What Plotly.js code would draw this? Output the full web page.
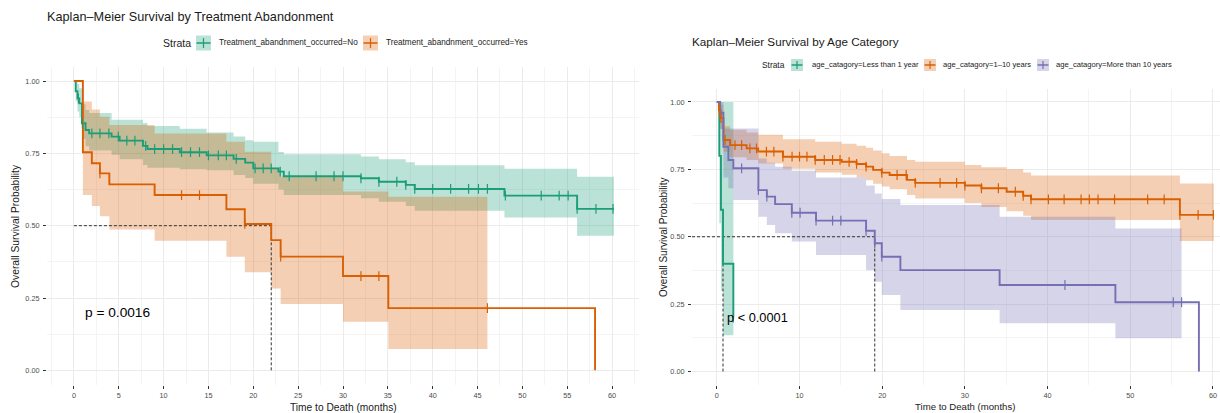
<!DOCTYPE html>
<html><head><meta charset="utf-8">
<script src="https://cdn.plot.ly/plotly-3.0.1.min.js"></script>
<style>html,body{margin:0;padding:0;background:#fff;}#chart{width:1220px;height:413px;}</style>
</head><body><div id="chart"></div>
<script>
// ---------- DATA ----------
// Left panel: Treatment abandonment = No
const noTimes  = [0, 0.2, 0.4, 0.6, 0.9, 1.3, 1.7, 4.2, 5.1, 7.7, 8.2, 11.8, 14.8, 17.8, 19.1, 20.0, 22.8, 23.4, 32.0, 34.0, 37.0, 38.0, 48.0, 56.1];
const noSurv   = [1.0, 0.965, 0.94, 0.923, 0.854, 0.831, 0.819, 0.808, 0.794, 0.776, 0.765, 0.754, 0.743, 0.731, 0.718, 0.698, 0.687, 0.671, 0.664, 0.652, 0.641, 0.627, 0.604, 0.558];
const noUpper  = [1.0, 1.0, 0.99, 0.975, 0.92, 0.90, 0.89, 0.866, 0.866, 0.855, 0.845, 0.835, 0.822, 0.808, 0.795, 0.79, 0.755, 0.747, 0.739, 0.73, 0.719, 0.709, 0.697, 0.669];
const noLower  = [1.0, 0.93, 0.895, 0.875, 0.80, 0.775, 0.76, 0.745, 0.73, 0.71, 0.70, 0.695, 0.692, 0.675, 0.665, 0.645, 0.625, 0.606, 0.595, 0.583, 0.568, 0.552, 0.528, 0.465];
const noCensor = [0.5, 0.95, 2.0, 2.9, 3.9, 4.95, 5.9, 6.8, 8.0, 9.0, 10.0, 11.0, 12.0, 13.0, 14.0, 15.0, 16.1, 17.0, 18.1, 20.2, 21.1, 22.0, 23.0, 24.0, 27.0, 29.0, 30.0, 32.0, 34.0, 36.0, 37.0, 38.0, 40.0, 42.0, 44.0, 45.1, 46.1, 48.1, 52.1, 54.1, 55.1, 56.1, 58.2, 60.1];
const noEnd = 60.2;

// Left panel: Treatment abandonment = Yes
const yesTimes  = [0, 1.0, 2.0, 2.9, 3.95, 9.0, 17.0, 19.05, 22.0, 23.05, 30.0, 35.05, 58.1];
const yesSurv   = [1.0, 0.754, 0.716, 0.681, 0.643, 0.606, 0.557, 0.506, 0.45, 0.393, 0.326, 0.215, 0];
const yesUpper  = [1.0, 0.929, 0.902, 0.877, 0.848, 0.819, 0.79, 0.756, 0.70, 0.669, 0.618, 0.60];
const yesLower  = [1.0, 0.606, 0.568, 0.533, 0.487, 0.448, 0.393, 0.339, 0.283, 0.229, 0.168, 0.074];
const yesCensor = [2.9, 12.0, 14.0, 19.05, 23.05, 32.0, 34.0, 46.1];
const yesEnd = 58.1, yesBandEnd = 46.1;

// Right panel: age < 1 year
const lt1Times  = [0, 0.3, 0.5, 0.75, 2.0];
const lt1Surv   = [1.0, 0.8, 0.6, 0.4, 0.2];
const lt1Upper  = [1.0, 1.0, 1.0, 1.0];
const lt1Lower  = [1.0, 0.55, 0.3, 0.135];
const lt1Censor = [2.0];
const lt1End = 2.0, lt1BandEnd = 2.0;

// Right panel: age 1-10 years
const midTimes  = [0, 0.25, 0.45, 0.8, 1.6, 3.6, 5.0, 8.0, 11.9, 15.1, 16.9, 18.05, 18.9, 19.95, 20.9, 23.0, 24.0, 30.0, 32.0, 35.05, 37.05, 38.0, 56.0];
const midSurv   = [1.0, 0.97, 0.94, 0.859, 0.84, 0.828, 0.816, 0.797, 0.785, 0.778, 0.77, 0.76, 0.748, 0.738, 0.729, 0.711, 0.70, 0.69, 0.68, 0.667, 0.652, 0.639, 0.581];
const midUpper  = [1.0, 1.0, 0.99, 0.91, 0.897, 0.887, 0.878, 0.862, 0.852, 0.845, 0.838, 0.83, 0.82, 0.81, 0.80, 0.785, 0.778, 0.766, 0.758, 0.75, 0.738, 0.727, 0.698];
const midLower  = [1.0, 0.94, 0.9, 0.815, 0.795, 0.785, 0.772, 0.752, 0.738, 0.73, 0.72, 0.71, 0.697, 0.686, 0.676, 0.655, 0.642, 0.625, 0.61, 0.595, 0.578, 0.562, 0.484];
const midCensor = [0.3, 0.5, 1.0, 2.2, 3.0, 4.0, 4.8, 6.0, 6.9, 8.0, 9.1, 10.0, 10.9, 11.9, 13.0, 14.0, 14.9, 16.0, 16.9, 18.05, 19.95, 21.8, 22.9, 24.0, 27.0, 29.0, 30.0, 32.0, 34.05, 36.1, 37.05, 38.0, 40.1, 42.0, 44.05, 45.05, 46.1, 48.1, 52.1, 54.1, 56.0, 58.2, 60.05];
const midEnd = 60.1;

// Right panel: age > 10 years
const gt10Times  = [0, 0.4, 0.8, 1.4, 2.0, 5.03, 6.05, 7.05, 9.07, 12.0, 18.05, 19.1, 19.95, 22.2, 34.2, 48.2, 58.3];
const gt10Surv   = [1.0, 0.96, 0.834, 0.785, 0.754, 0.673, 0.649, 0.621, 0.589, 0.56, 0.522, 0.476, 0.426, 0.376, 0.321, 0.257, 0];
const gt10Upper  = [1.0, 1.0, 0.902, 0.902, 0.902, 0.79, 0.775, 0.76, 0.745, 0.72, 0.69, 0.66, 0.64, 0.618, 0.574, 0.531];
const gt10Lower  = [1.0, 0.9, 0.72, 0.68, 0.636, 0.574, 0.544, 0.513, 0.482, 0.432, 0.376, 0.333, 0.284, 0.228, 0.179, 0.123];
const gt10Censor = [3.0, 5.03, 6.05, 9.07, 10.07, 12.0, 14.0, 15.0, 18.05, 19.1, 19.95, 42.1, 55.2, 56.2];
const gt10End = 58.3, gt10BandEnd = 56.2;

// Medians
const leftMedians  = [22];
const rightMedians = [0.75, 19.1];

// Text
const leftTitle  = 'Kaplan–Meier Survival by Treatment Abandonment';
const rightTitle = 'Kaplan–Meier Survival by Age Category';
const leftStrata  = ['Treatment_abandnment_occurred=No', 'Treatment_abandnment_occurred=Yes'];
const rightStrata = ['age_catagory=Less than 1 year', 'age_catagory=1–10 years', 'age_catagory=More than 10 years'];
const leftPval  = 'p = 0.0016';
const rightPval = 'p < 0.0001';
const xTitle = 'Time to Death (months)';
const yTitle = 'Overall Survival Probability';

// ---------- STYLE ----------
const W = 1220, H = 413;
const FONT = 'Liberation Sans, Arial, Helvetica, sans-serif';
const GREEN = '#1B9E77', ORANGE = '#D95F02', PURPLE = '#7570B3';
const GREEN_F = 'rgba(27,158,119,0.3)', ORANGE_F = 'rgba(217,95,2,0.3)', PURPLE_F = 'rgba(117,112,179,0.3)';
const xp = v => v / W;
const yp = v => 1 - v / H;

function stepTrace(times, surv, end, color, xa, ya) {
  return {x: times.concat([end]), y: surv.concat([surv[surv.length - 1]]), xaxis: xa, yaxis: ya,
    type: 'scatter', mode: 'lines', line: {color: color, width: 1.9, shape: 'hv'}, hoverinfo: 'skip', showlegend: false};
}
function bandTraces(times, upper, lower, end, fill, xa, ya) {
  const t = times.slice(0, upper.length).concat([end]);
  const lo = {x: t, y: lower.concat([lower[lower.length - 1]]), xaxis: xa, yaxis: ya, type: 'scatter', mode: 'lines',
    line: {width: 0, shape: 'hv', color: 'rgba(0,0,0,0)'}, hoverinfo: 'skip', showlegend: false};
  const up = {x: t, y: upper.concat([upper[upper.length - 1]]), xaxis: xa, yaxis: ya, type: 'scatter', mode: 'lines',
    fill: 'tonexty', fillcolor: fill, line: {width: 0, shape: 'hv', color: 'rgba(0,0,0,0)'}, hoverinfo: 'skip', showlegend: false};
  return [lo, up];
}
function survAt(times, surv, c) {
  let s = surv[0];
  for (let i = 0; i < times.length; i++) if (times[i] <= c + 1e-9) s = surv[i];
  return s;
}
function censorTrace(censor, times, surv, color, xa, ya) {
  return {x: censor, y: censor.map(c => survAt(times, surv, c)), xaxis: xa, yaxis: ya, type: 'scatter', mode: 'markers',
    marker: {symbol: 'line-ns-open', size: 7, color: color, line: {width: 1.2, color: color}}, hoverinfo: 'skip', showlegend: false};
}
function medianTraces(meds, x0, xa, ya) {
  const tr = [];
  const mx = Math.max.apply(null, meds);
  tr.push({x: [x0, mx], y: [0.5, 0.5], xaxis: xa, yaxis: ya, type: 'scatter', mode: 'lines',
    line: {color: '#333', width: 1, dash: '3px,2px'}, hoverinfo: 'skip', showlegend: false});
  meds.forEach(m => tr.push({x: [m, m], y: [0, 0.5], xaxis: xa, yaxis: ya, type: 'scatter', mode: 'lines',
    line: {color: '#333', width: 1, dash: '3px,2px'}, hoverinfo: 'skip', showlegend: false}));
  return tr;
}

const rightRange = [-3, 60.85];
const traces = [].concat(
  bandTraces(noTimes, noUpper, noLower, noEnd, GREEN_F, 'x', 'y'),
  bandTraces(yesTimes, yesUpper, yesLower, yesBandEnd, ORANGE_F, 'x', 'y'),
  medianTraces(leftMedians, 0, 'x', 'y'),
  [stepTrace(noTimes, noSurv, noEnd, GREEN, 'x', 'y'),
   stepTrace(yesTimes, yesSurv, yesEnd, ORANGE, 'x', 'y'),
   censorTrace(noCensor, noTimes, noSurv, GREEN, 'x', 'y'),
   censorTrace(yesCensor, yesTimes, yesSurv, ORANGE, 'x', 'y')],
  bandTraces(lt1Times, lt1Upper, lt1Lower, lt1BandEnd, GREEN_F, 'x2', 'y2'),
  bandTraces(midTimes, midUpper, midLower, midEnd, ORANGE_F, 'x2', 'y2'),
  bandTraces(gt10Times, gt10Upper, gt10Lower, gt10BandEnd, PURPLE_F, 'x2', 'y2'),
  medianTraces(rightMedians, rightRange[0], 'x2', 'y2'),
  [stepTrace(lt1Times, lt1Surv, lt1End, GREEN, 'x2', 'y2'),
   stepTrace(midTimes, midSurv, midEnd, ORANGE, 'x2', 'y2'),
   stepTrace(gt10Times, gt10Surv, gt10End, PURPLE, 'x2', 'y2'),
   censorTrace(lt1Censor, lt1Times, lt1Surv, GREEN, 'x2', 'y2'),
   censorTrace(midCensor, midTimes, midSurv, ORANGE, 'x2', 'y2'),
   censorTrace(gt10Censor, gt10Times, gt10Surv, PURPLE, 'x2', 'y2')]
);

function xAxis(domain, range, dtick, anchor) {
  return {domain: domain, range: range, dtick: dtick, tick0: 0, anchor: anchor, ticks: 'outside', ticklen: 3, tickwidth: 1,
    tickcolor: '#333', showgrid: true, gridcolor: '#ebebeb', gridwidth: 1, zeroline: false, showline: false,
    minor: {dtick: dtick / 2, showgrid: true, gridcolor: '#f4f4f4', gridwidth: 1},
    tickfont: {family: FONT, size: 7.3, color: '#4d4d4d'}, fixedrange: true};
}
function yAxis(domain, anchor) {
  return {domain: domain, range: [-0.05, 1.05], dtick: 0.25, tick0: 0, tickformat: '.2f', anchor: anchor, ticks: 'outside',
    ticklen: 3, tickwidth: 1, tickcolor: '#333', showgrid: true, gridcolor: '#ebebeb', gridwidth: 1, zeroline: false,
    showline: false, ticklabelstandoff: 2, minor: {dtick: 0.125, showgrid: true, gridcolor: '#f4f4f4', gridwidth: 1},
    tickfont: {family: FONT, size: 7.3, color: '#4d4d4d'}, fixedrange: true};
}

const annotations = [];
const shapes = [];
function txt(text, x, y, size, opts) {
  annotations.push(Object.assign({text: text, x: xp(x), y: yp(y), xref: 'paper', yref: 'paper', showarrow: false,
    xanchor: 'left', yanchor: 'middle', font: {family: FONT, size: size, color: '#1a1a1a'}}, opts || {}));
}
// right title
txt(rightTitle, 690, 41, 11.7);
// axis titles
txt(xTitle, 343, 407, 10.2, {xanchor: 'center', borderpad: 0});
txt(xTitle, 965, 406.5, 9.6, {xanchor: 'center', borderpad: 0});
txt(yTitle, 15, 226, 10.3, {xanchor: 'center', textangle: -90});
txt(yTitle, 663, 237, 10, {xanchor: 'center', textangle: -90});
// p values (data coords)
annotations.push({text: leftPval, x: 1.0, y: 0.2, xref: 'x', yref: 'y', xanchor: 'left', yanchor: 'middle', showarrow: false,
  font: {family: FONT, size: 13.7, color: '#000'}});
annotations.push({text: rightPval, x: 1.0, y: 0.2, xref: 'x2', yref: 'y2', xanchor: 'left', yanchor: 'middle', showarrow: false,
  font: {family: FONT, size: 12.8, color: '#000'}});

// legends
function legendKey(x0, size, cy, color, fill) {
  shapes.push({type: 'rect', xref: 'paper', yref: 'paper', x0: xp(x0), x1: xp(x0 + size), y0: yp(cy + size / 2), y1: yp(cy - size / 2),
    fillcolor: fill, line: {width: 0}, layer: 'above'});
  shapes.push({type: 'line', xref: 'paper', yref: 'paper', x0: xp(x0 + 0.5), x1: xp(x0 + size - 0.5), y0: yp(cy), y1: yp(cy),
    line: {color: color, width: 1.5}, layer: 'above'});
  shapes.push({type: 'line', xref: 'paper', yref: 'paper', x0: xp(x0 + size / 2), x1: xp(x0 + size / 2), y0: yp(cy - size * 0.33), y1: yp(cy + size * 0.33),
    line: {color: color, width: 1.2}, layer: 'above'});
}
txt('Strata', 161, 43, 10.5);
const lKeyX = [196, 363], lTextX = [217, 384], lCols = [GREEN, ORANGE], lFills = [GREEN_F, ORANGE_F];
leftStrata.forEach((s, i) => { legendKey(lKeyX[i], 15, 43, lCols[i], lFills[i]); txt(s, lTextX[i], 43, 8.2); });
txt('Strata', 760, 65, 8.4);
const rKeyX = [791, 924, 1037], rTextX = [810, 941, 1054], rCols = [GREEN, ORANGE, PURPLE], rFills = [GREEN_F, ORANGE_F, PURPLE_F];
rightStrata.forEach((s, i) => { legendKey(rKeyX[i], 12, 65, rCols[i], rFills[i]); txt(s, rTextX[i], 65, 7.6); });

const layout = {
  width: W, height: H, margin: {l: 0, r: 0, t: 0, b: 0}, paper_bgcolor: '#fff', plot_bgcolor: '#fff',
  font: {family: FONT, color: '#1a1a1a'}, showlegend: false, hovermode: false,
  title: {text: leftTitle, x: xp(47), xanchor: 'left', xref: 'paper', y: yp(17), yanchor: 'middle', yref: 'container',
    font: {family: FONT, size: 12.7, color: '#1a1a1a'}},
  xaxis: xAxis([xp(47), xp(639)], [-3, 63], 5, 'y'),
  yaxis: yAxis([yp(384.8), yp(66.6)], 'x'),
  xaxis2: xAxis([xp(692), 1], rightRange, 10, 'y2'),
  yaxis2: yAxis([yp(385), yp(88.5)], 'x2'),
  annotations: annotations, shapes: shapes
};
Plotly.newPlot('chart', traces, layout, {displayModeBar: false, staticPlot: true});
</script></body></html>
